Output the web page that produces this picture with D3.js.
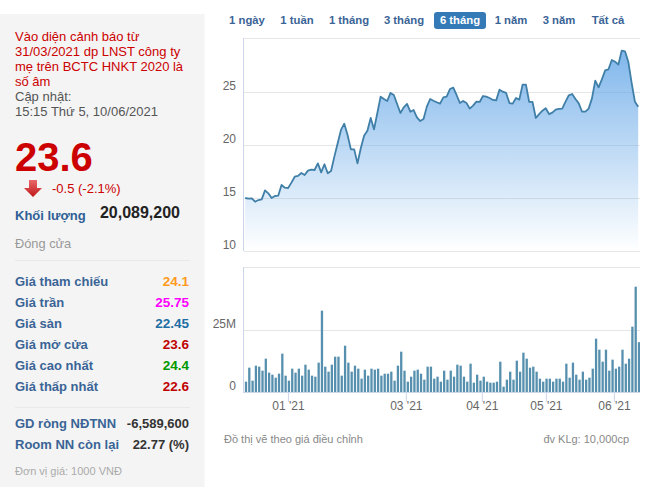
<!DOCTYPE html>
<html><head><meta charset="utf-8">
<script src="https://cdnjs.cloudflare.com/ajax/libs/d3/7.8.5/d3.min.js"></script>
<style>html,body{margin:0;padding:0;background:#fff}svg{display:block}text{font-family:"Liberation Sans",Arial,sans-serif}</style>
</head><body><div id="c"></div>
<script>
const prices=[15.0,14.94,14.97,14.65,14.81,14.87,15.72,15.44,15.0,15.19,15.22,16.23,15.97,15.94,16.45,17.01,17.08,17.36,17.17,17.58,17.67,17.64,18.27,17.42,18.18,17.33,17.55,18.9,20.16,21.42,22.01,20.94,19.59,19.59,18.27,19.69,20.88,21.35,22.55,21.48,22.99,24.56,24.34,24.15,24.91,24.72,23.87,23.02,23.55,23.87,23.14,23.3,22.61,22.26,22.45,23.62,
24.34,24.18,24.03,23.9,24.5,24.56,25.28,25.41,24.72,23.96,24.15,23.96,23.43,23.71,24.09,24.06,24.62,24.56,24.43,24.25,24.21,25.22,25.03,24.91,23.96,23.9,24.43,24.28,25.69,25.69,24.06,24.06,22.55,22.92,23.24,23.46,22.92,23.05,23.33,23.4,23.43,24.09,24.69,24.81,24.34,23.93,23.14,23.14,23.43,24.4,26.07,25.44,26.19,27.04,27.14,28.02,27.86,27.58,28.9,28.84,27.86,25.88,24.09,23.62];
const volumes=[4.17,9.81,4.57,10.62,10.22,8.6,13.44,7.8,6.99,5.78,7.39,15.46,6.59,4.57,9.41,7.8,9.41,6.59,11.02,9.01,6.59,6.18,11.83,32.8,10.22,8.2,11.02,14.25,14.25,6.59,18.68,11.83,8.2,10.62,9.41,5.38,9.01,6.59,9.41,9.01,9.41,6.59,7.39,7.39,8.2,4.57,10.62,16.26,8.6,4.17,6.18,8.6,9.01,7.39,4.97,10.22,10.22,5.38,6.18,
4.17,8.6,4.97,8.6,6.18,11.02,10.62,6.18,4.17,11.42,3.76,6.99,4.57,6.18,4.17,3.76,3.76,4.17,12.23,2.15,4.97,8.2,4.97,12.63,8.2,15.86,13.44,9.81,10.22,8.2,5.38,4.17,5.38,5.38,4.17,5.38,5.38,4.17,11.42,5.78,11.83,6.99,4.97,8.2,4.97,5.78,9.41,21.51,17.07,12.23,17.07,8.6,13.04,9.41,10.22,17.07,11.42,13.44,26.34,42.47,20.09];
const priceTicks=[10,15,20,25];
const volumeTicks=[0,25];
const monthIndex=[12.7,48.4,71.4,90.8,111.4];
const monthLabels=["01 '21","03 '21","04 '21","05 '21","06 '21"];
const tabs=["1 ngày","1 tuần","1 tháng","3 tháng","6 tháng","1 năm","3 năm","Tất cả"];
const tabCenters=[247,297,349,404,460,511,559,608];
const noticeLines=["Vào diện cảnh báo từ","31/03/2021 dp LNST công ty","mẹ trên BCTC HNKT 2020 là","số âm"];
const updateLines=["Cập nhật:","15:15 Thứ 5, 10/06/2021"];
const rowLabels=["Giá tham chiếu","Giá trần","Giá sàn","Giá mở cửa","Giá cao nhất","Giá thấp nhất"];
const rowValues=["24.1","25.75","22.45","23.6","24.4","22.6"];
const rowColors=["#ff9a1e","#ff00ff","#1c6ea4","#c00000","#009900","#c00000"];

const W=669,H=491,plotL=244,plotR=640;
const svg=d3.select("#c").append("svg").attr("width",W).attr("height",H);
const defs=svg.append("defs");
const g=defs.append("linearGradient").attr("id","ga").attr("x1",0).attr("y1",0).attr("x2",0).attr("y2",1);
g.append("stop").attr("offset",0).attr("stop-color","#6aaae8").attr("stop-opacity",.85);
g.append("stop").attr("offset",1).attr("stop-color","#6aaae8").attr("stop-opacity",0);
const ga=defs.append("linearGradient").attr("id","gr").attr("x1",0).attr("y1",0).attr("x2",0).attr("y2",1);
ga.append("stop").attr("offset",0).attr("stop-color","#e8686a");
ga.append("stop").attr("offset",1).attr("stop-color","#c01818");
defs.append("clipPath").attr("id","vc").append("rect").attr("x",plotL).attr("y",260).attr("width",plotR-plotL).attr("height",140);

// left panel
svg.append("rect").attr("x",0).attr("y",14).attr("width",204.5).attr("height",473).attr("fill","#f4f4f4");
function t(x,y,s,o={}){return svg.append("text").attr("x",x).attr("y",y).text(s)
  .attr("font-size",o.size||13).attr("font-weight",o.bold?"bold":"normal").attr("fill",o.fill||"#333").attr("text-anchor",o.anchor||"start");}
noticeLines.forEach((s,i)=>t(15,41+i*15,s,{size:13,fill:"#cc0000"}));
updateLines.forEach((s,i)=>t(15,101+i*15,s,{size:13,fill:"#555"}));
t(15,171,"23.6",{size:40,bold:true,fill:"#cc0000"});
svg.append("path").attr("d","M29 180h8v8h5l-9 9l-9-9h5z").attr("fill","url(#gr)");
t(52,193,"-0.5 (-2.1%)",{size:13,fill:"#cc0000"});
t(15,220,"Khối lượng",{size:13,bold:true,fill:"#2f5f96"});
t(180,218,"20,089,200",{size:16,bold:true,fill:"#222",anchor:"end"});
t(15,248,"Đóng cửa",{size:12.8,fill:"#999"});
[260,407].forEach(y=>svg.append("rect").attr("x",15).attr("y",y).attr("width",175).attr("height",1).attr("fill","#e9e9e9"));
rowLabels.forEach((s,i)=>{
  const y=286+i*21;
  t(15,y,s,{size:13,bold:true,fill:"#3a6496"});
  t(189,y,rowValues[i],{size:13.5,bold:true,fill:rowColors[i],anchor:"end"});
});
t(15,428,"GD ròng NĐTNN",{size:13,bold:true,fill:"#3a6496"});
t(189,428,"-6,589,600",{size:13,bold:true,fill:"#333",anchor:"end"});
t(15,449,"Room NN còn lại",{size:13,bold:true,fill:"#3a6496"});
t(189,449,"22.77 (%)",{size:13,bold:true,fill:"#333",anchor:"end"});
t(15,475,"Đơn vị giá: 1000 VNĐ",{size:11,fill:"#aaa"});

// tabs
svg.append("rect").attr("x",434).attr("y",12).attr("width",52).attr("height",17).attr("rx",3).attr("fill","#337ab7");
tabs.forEach((s,i)=>t(tabCenters[i],24,s,{size:11.3,bold:true,fill:i==4?"#fff":"#3a6496",anchor:"middle"}));

// scales
const x=d3.scaleLinear().domain([0,prices.length-1]).range([246,639]);
const y=d3.scaleLinear().domain([10,25]).range([251,92]);
const yv=d3.scaleLinear().domain([0,25]).range([392,330]);

// price grid & axis
const ay=svg.append("g").attr("transform",`translate(${plotL},0)`)
  .call(d3.axisLeft(y).tickValues(priceTicks).tickSize(-(plotR-plotL)).tickFormat(d3.format("d")));
ay.select(".domain").remove();
ay.selectAll("line").attr("stroke","#e6e6e6").attr("stroke-width",1);
ay.selectAll("text").attr("fill","#666").attr("font-size",12).attr("x",-8).attr("dy","-2.5px");
svg.append("line").attr("x1",plotL-.5).attr("x2",plotR).attr("y1",38.5).attr("y2",38.5).attr("stroke","#e6e6e6");
svg.append("line").attr("x1",plotL-.5).attr("x2",plotL-.5).attr("y1",38).attr("y2",251).attr("stroke","#ccd6eb");

// price area + line
const px=i=>x(i)-.8;
svg.append("path").datum(prices).attr("fill","url(#ga)")
  .attr("d",d3.area().x((d,i)=>px(i)).y0(y(10)).y1(d=>y(d)));
svg.append("path").datum(prices).attr("fill","none").attr("stroke","#3f7fa8").attr("stroke-width",1.8).attr("stroke-linejoin","round")
  .attr("d",d3.line().x((d,i)=>px(i)).y(d=>y(d)));

// volume
const av=svg.append("g").attr("transform",`translate(${plotL},0)`)
  .call(d3.axisLeft(yv).tickValues(volumeTicks).tickSize(-(plotR-plotL)).tickFormat(d=>d?d+"M":"0"));
av.select(".domain").remove();
av.selectAll("line").attr("stroke","#e6e6e6");
av.selectAll("text").attr("fill","#666").attr("font-size",12).attr("x",-8).attr("dy","-2.5px");
svg.append("line").attr("x1",plotL-.5).attr("x2",plotR).attr("y1",267.5).attr("y2",267.5).attr("stroke","#e6e6e6");
svg.append("line").attr("x1",plotL-.5).attr("x2",plotL-.5).attr("y1",267).attr("y2",393).attr("stroke","#ccd6eb");
svg.append("g").attr("clip-path","url(#vc)").selectAll("rect").data(volumes).join("rect")
  .attr("x",(d,i)=>x(i)-1.15).attr("width",2.3).attr("y",d=>yv(d)).attr("height",d=>yv(0)-yv(d)).attr("fill","#5690ae");

// x axis
const ax=svg.append("g").attr("transform","translate(0,392)")
  .call(d3.axisBottom(x).tickValues(monthIndex).tickSize(10).tickFormat((d,i)=>monthLabels[i]));
ax.select(".domain").attr("d",`M${plotL},0.5H${plotR}`).attr("stroke","#ccd6eb");
ax.selectAll("line").attr("stroke","#ccd6eb");
ax.selectAll("text").attr("fill","#666").attr("font-size",12).attr("y",12).attr("dy","6px");

t(224,443,"Đồ thị vẽ theo giá điều chỉnh",{size:11,fill:"#888"});
t(629,443,"đv KLg: 10,000cp",{size:11,fill:"#888",anchor:"end"});
</script></body></html>
